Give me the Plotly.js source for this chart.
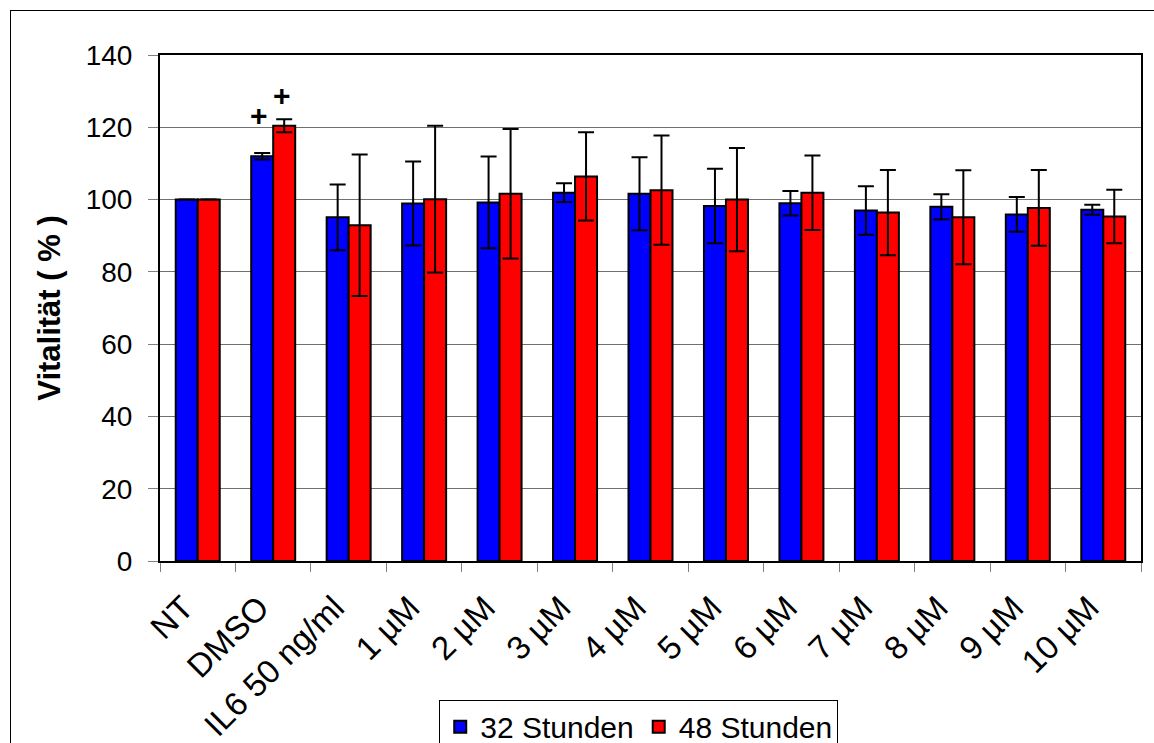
<!DOCTYPE html>
<html>
<head>
<meta charset="utf-8">
<script src="https://cdn.plot.ly/plotly-3.0.1.min.js"></script>
<style>
  html, body { margin: 0; padding: 0; background: #fff; }
  #chart { width: 1154px; height: 743px; position: relative; }
  #frame { position: absolute; left: 10px; top: 10px; width: 1160px; height: 800px;
           border: 1px solid #000; pointer-events: none; box-sizing: border-box; }
</style>
</head>
<body>
<div id="chart"></div>
<div id="frame"></div>
<script>
const categories = ['NT', 'DMSO', 'IL6 50 ng/ml', '1 µM', '2 µM', '3 µM', '4 µM',
                    '5 µM', '6 µM', '7 µM', '8 µM', '9 µM', '10 µM'];
const series32Name = '32 Stunden';
const series48Name = '48 Stunden';
const values32 = [100, 112.0, 95.1, 98.9, 99.2, 101.9, 101.6, 98.2, 99.0, 97.0, 98.0, 95.9, 97.2];
const errors32 = [0, 0.9, 9.1, 11.6, 12.7, 2.6, 10.1, 10.3, 3.4, 6.7, 3.5, 4.8, 1.4];
const values48 = [100, 120.4, 92.9, 100.1, 101.6, 106.4, 102.6, 100.0, 101.9, 96.4, 95.1, 97.7, 95.3];
const errors48 = [0, 1.8, 19.6, 20.3, 17.9, 12.2, 15.1, 14.3, 10.3, 11.8, 13.0, 10.5, 7.4];
const sigCategory = ['DMSO', 'DMSO'];
const sigSeries = [0, 1];
const sigY = [123.2, 128.7];
const sigText = ['+', '+'];
const yTicks = [0, 20, 40, 60, 80, 100, 120, 140];

const font = 'Liberation Sans, Arial, sans-serif';

const traces = [
  {
    type: 'bar', name: series32Name, x: categories, y: values32,
    marker: { color: '#0000FF', line: { color: '#000', width: 2 } },
    error_y: { type: 'data', array: errors32, visible: true, color: '#000', thickness: 2, width: 8 }
  },
  {
    type: 'bar', name: series48Name, x: categories, y: values48,
    marker: { color: '#FF0000', line: { color: '#000', width: 2 } },
    error_y: { type: 'data', array: errors48, visible: true, color: '#000', thickness: 2, width: 8 }
  }
];

const annotations = sigText.map((t, i) => ({
  x: sigCategory[i], y: sigY[i], xref: 'x', yref: 'y',
  text: '<b>' + t + '</b>', showarrow: false,
  xshift: sigSeries[i] === 0 ? -14 : 9,
  font: { family: font, size: 30, color: '#000' }
}));

const layout = {
  width: 1154, height: 743,
  margin: { l: 160, r: 13, t: 55, b: 182, autoexpand: false },
  paper_bgcolor: '#fff', plot_bgcolor: '#fff',
  font: { family: font, size: 28, color: '#000' },
  barmode: 'group', bargap: 0.417, bargroupgap: 0,
  showlegend: true,
  legend: {
    orientation: 'h', x: 0.488, xanchor: 'center', y: -0.274, yanchor: 'top',
    bgcolor: '#fff', bordercolor: '#000', borderwidth: 1,
    font: { family: font, size: 30, color: '#000' },
    itemwidth: 30, traceorder: 'normal'
  },
  xaxis: {
    type: 'category', tickangle: -45, tickson: 'boundaries', automargin: false,
    ticks: 'outside', ticklen: 9, tickcolor: '#808080', tickwidth: 1,
    showline: true, linecolor: '#000', linewidth: 2, mirror: true,
    ticklabelstandoff: 12, ticklabelshift: -14,
    showgrid: false, tickfont: { family: font, size: 33, color: '#000' }
  },
  yaxis: {
    range: [0, 140], tickvals: yTicks, ticktext: yTicks.map(String), automargin: false,
    ticks: 'outside', ticklen: 10, tickcolor: '#808080', tickwidth: 1,
    showline: true, linecolor: '#000', linewidth: 2, mirror: true,
    ticklabelstandoff: 10,
    showgrid: true, gridcolor: '#707070', gridwidth: 1, zeroline: false,
    tickfont: { family: font, size: 28, color: '#000' },
    title: { text: '<b>Vitalität ( % )</b>', font: { family: font, size: 31, color: '#000' }, standoff: 16 }
  },
  annotations: annotations
};

Plotly.newPlot('chart', traces, layout, { displayModeBar: false, staticPlot: true });
</script>
</body>
</html>
